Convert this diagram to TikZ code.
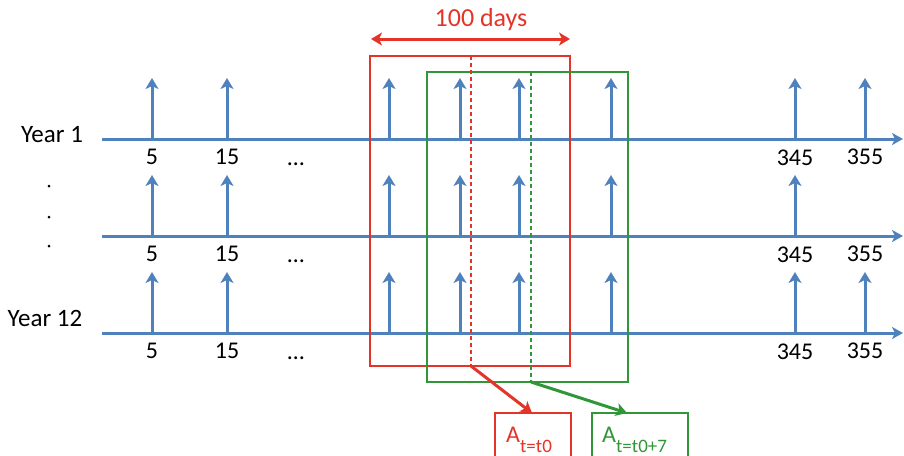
\documentclass[tikz,border=0pt]{standalone}
\usepackage{fontspec}
\setmainfont{Carlito}
\usetikzlibrary{arrows.meta}
\definecolor{tblue}{RGB}{79,129,189}
\definecolor{tred}{RGB}{228,52,40}
\definecolor{tgreen}{RGB}{48,150,56}
\tikzset{
  axisline/.style={draw=tblue, line width=3pt, -{Stealth[length=11pt,width=12pt,inset=3pt]}},
  tick/.style={draw=tblue, line width=3pt, -{Stealth[length=11pt,width=13pt,inset=3pt]}},
  numlab/.style={inner sep=0pt, font=\fontsize{24}{24}\selectfont},
  ellip/.style={inner sep=0pt, anchor=base, font=\fontsize{24}{24}\selectfont},
  yearlab/.style={inner sep=0pt, font=\fontsize{25}{25}\selectfont},
  redbox/.style={draw=tred, line width=1.3pt},
  greenbox/.style={draw=tgreen, line width=1.3pt},
  reddash/.style={draw=tred, line width=1.3pt, dash pattern=on 4pt off 3pt},
  greendash/.style={draw=tgreen, line width=1.3pt, dash pattern=on 4pt off 3pt},
}
\begin{document}
\begin{tikzpicture}[x=1pt,y=-1pt]
\useasboundingbox (0,0) rectangle (904,455);
\begin{scope}
\clip (0,0) rectangle (904,455);
% time lines
\foreach \r/\ly in {1/139,2/236,3/333}{
  \coordinate (S\r) at (102,\ly);
  \coordinate (E\r) at (903,\ly);
  \draw[axisline] (S\r) -- (E\r);
}
\foreach \r/\ly in {1/139,2/236,3/333}{
  \foreach \x in {152,227,389,460,519,611,795}{
    \coordinate (B\r-\x) at (\x,\ly);
    \coordinate (T\r-\x) at (\x,\ly-61);
    \draw[tick] (B\r-\x) -- (T\r-\x);
  }
}
\foreach \r/\ly in {1/139,3/333}{
  \coordinate (B\r-865) at (865,\ly);
  \coordinate (T\r-865) at (865,\ly-61);
  \draw[tick] (B\r-865) -- (T\r-865);
}
% labels
\foreach \r/\ly in {1/139,2/236,3/333}{
  \node[numlab] (n5-\r) at (152,\ly+18) {5};
  \node[numlab] (n15-\r) at (227,\ly+18) {15};
  \node[ellip] (dots-\r) at (296,\ly+26.5) {…};
  \node[numlab] (n345-\r) at (795,\ly+19) {345};
  \node[numlab] (n355-\r) at (865,\ly+18) {355};
}
\node[yearlab] (y1) at (52,135) {Year 1};
\node[yearlab] (y12) at (45,318) {Year 12};
\fill (49,186) circle (1.5pt);
\fill (49,217) circle (1.5pt);
\fill (49,246) circle (1.5pt);
% windows
\coordinate (rtl) at (370,56);
\coordinate (rbr) at (570,366);
\coordinate (gtl) at (427,72);
\coordinate (gbr) at (628,382);
\draw[redbox] (rtl) rectangle (rbr);
\draw[greenbox] (gtl) rectangle (gbr);
\coordinate (rdt) at (471,56);
\coordinate (rdb) at (471,366);
\coordinate (gdt) at (531,72);
\coordinate (gdb) at (531,382);
\draw[reddash] (rdt) -- (rdb);
\draw[greendash] (gdt) -- (gdb);
% 100 days
\coordinate (dl) at (371,39);
\coordinate (dr) at (570,39);
\draw[draw=tred, line width=3pt, {Stealth[length=11pt,width=13pt,inset=3pt]}-{Stealth[length=11pt,width=13pt,inset=3pt]}] (dl) -- (dr);
\node[inner sep=0pt, anchor=base, text=tred, font=\fontsize{26}{26}\selectfont] (days) at (481,26) {100 days};
% result boxes
\draw[redbox] (495,460) -- (495,413) -- (571,413) -- (571,460);
\draw[greenbox] (592,460) -- (592,413) -- (688,413) -- (688,460);
\coordinate (rboxtop) at (532,413);
\coordinate (gboxtop) at (627,413);
\node[inner sep=0pt, anchor=base west, text=tred] (at0) at (506,442)
  {\fontsize{24}{24}\selectfont A\raisebox{-10pt}{\fontsize{19}{19}\selectfont t=t0}};
\node[inner sep=0pt, anchor=base west, text=tgreen] (at7) at (602,442)
  {\fontsize{24}{24}\selectfont A\raisebox{-10pt}{\fontsize{19}{19}\selectfont t=t0+7}};
\draw[draw=tred, line width=3pt, -{Stealth[length=11pt,width=13pt,inset=3pt]}] (rdb) -- (rboxtop);
\draw[draw=tgreen, line width=3pt, -{Stealth[length=11pt,width=13pt,inset=3pt]}] (gdb) -- (gboxtop);
\end{scope}
\end{tikzpicture}
\end{document}
